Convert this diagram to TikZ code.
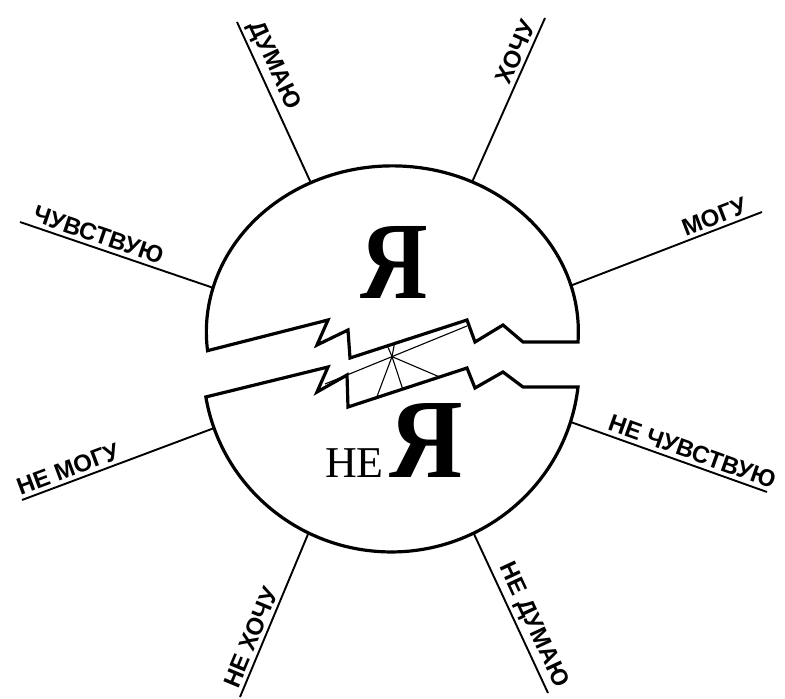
\documentclass[tikz,border=0pt]{standalone}
\usepackage{fontspec}
\usepackage{graphicx}
\setmainfont{Liberation Serif}
\newfontfamily\labfont{Liberation Sans}
\usetikzlibrary{calc}
\tikzset{
  outline/.style={line width=3.2pt, line join=miter},
  spoke/.style={line width=1.9pt},
  fine/.style={line width=1.1pt},
  lbl/.style={font=\labfont\bfseries\fontsize{24}{24}\selectfont, inner sep=3.5pt, sloped},
  bigya/.style={font=\bfseries\fontsize{110}{110}\selectfont, inner sep=0pt},
}
\begin{document}
\begin{tikzpicture}[x=1pt,y=-1pt]
\useasboundingbox (0,0) rectangle (785,699);
% centres of the two halves
\coordinate (UC) at (392.35,331.87);
\coordinate (LC) at (391.2,366);
% upper crack
\coordinate (UR) at (578,342);
\coordinate (U1) at (328,320);
\coordinate (U2) at (317,345);
\coordinate (U3) at (348,330);
\coordinate (U4) at (350,358);
\coordinate (U5) at (467,320);
\coordinate (U6) at (475,342);
\coordinate (U7) at (503,325);
\coordinate (U8) at (523,342);
% lower crack
\coordinate (LR) at (578,387);
\coordinate (L1) at (328,367);
\coordinate (L2) at (317,392);
\coordinate (L3) at (347,375);
\coordinate (L4) at (348,407);
\coordinate (L5) at (467,368);
\coordinate (L6) at (475,388);
\coordinate (L7) at (503,372);
\coordinate (L8) at (523,387);
% halves
\draw[outline] (UR) arc[start angle=3.5, end angle=-186.5, x radius=186, y radius=166]
  -- (U1) -- (U2) -- (U3) -- (U4) -- (U5) -- (U6) -- (U7) -- (U8) -- cycle;
\draw[outline] (LR) arc[start angle=6.5, end angle=170.4, x radius=188, y radius=186]
  -- (L1) -- (L2) -- (L3) -- (L4) -- (L5) -- (L6) -- (L7) -- (L8) -- cycle;
% crack details
\coordinate (T2) at (467,326);
\coordinate (S) at ($(L3)!0.375!(T2)$);
\coordinate (N1) at (325,384);
\draw[fine] (L3) -- (T2);
\draw[fine] (N1) -- (L3);
\draw[fine] (S) -- ($(L4)!0.24!(L5)$);
\draw[fine] (S) -- ($(L4)!0.46!(L5)$);
\draw[fine] (S) -- ($(L4)!0.77!(L5)$);
\draw[fine] (S) -- ($(U4)!0.32!(U5)$);
\draw[fine] (S) -- ($(U4)!0.38!(U5)$);
% spoke end points
\coordinate (iDum) at ($(UC)+(-116:186 and 166)$);
\coordinate (iHoch) at ($(UC)+(-64.6:186 and 166)$);
\coordinate (iMog) at ($(UC)+(-16.2:186 and 166)$);
\coordinate (iChuv) at ($(UC)+(-164.6:186 and 166)$);
\coordinate (iNeMog) at ($(LC)+(160.5:188 and 186)$);
\coordinate (iNeChuv) at ($(LC)+(17.5:188 and 186)$);
\coordinate (iNeHoch) at ($(LC)+(116.1:188 and 186)$);
\coordinate (iNeDum) at ($(LC)+(64:188 and 186)$);
\coordinate (oDum) at (237,22);
\coordinate (oHoch) at (545,18);
\coordinate (oMog) at (762,212);
\coordinate (oChuv) at (20,222);
\coordinate (oNeMog) at (22,500);
\coordinate (oNeChuv) at (767,492);
\coordinate (oNeHoch) at (240,697);
\coordinate (oNeDum) at (548,693);
% spokes with labels
\draw[spoke] (oDum) -- (iDum) node[lbl, pos=0.02, anchor=south west] (tDum) {ДУМАЮ};
\draw[spoke] (iHoch) -- (oHoch) node[lbl, pos=0.97, anchor=south east] (tHoch) {ХОЧУ};
\draw[spoke] (iMog) -- (oMog) node[lbl, pos=0.96, anchor=south east] (tMog) {МОГУ};
\draw[spoke] (oChuv) -- (iChuv) node[lbl, pos=0.03, anchor=south west] (tChuv) {ЧУВСТВУЮ};
\draw[spoke] (oNeMog) -- (iNeMog) node[lbl, pos=-0.02, anchor=south west] (tNeMog) {НЕ МОГУ};
\draw[spoke] (iNeChuv) -- (oNeChuv) node[lbl, pos=1.04, anchor=south east] (tNeChuv) {НЕ ЧУВСТВУЮ};
\draw[spoke] (oNeHoch) -- (iNeHoch) node[lbl, pos=0.01, anchor=south west] (tNeHoch) {НЕ ХОЧУ};
\draw[spoke] (iNeDum) -- (oNeDum) node[lbl, pos=0.21, anchor=south west] (tNeDum) {НЕ ДУМАЮ};
% central letters
\node[bigya, anchor=base] (ya1) at (394.5,298) {\scalebox{0.85}[1]{Я}};
\node[font=\fontsize{44}{44}\selectfont, inner sep=0pt, anchor=base west] (ne) at (325,477) {НЕ};
\node[font=\bfseries\fontsize{113}{113}\selectfont, inner sep=0pt, anchor=base west] (ya2) at (389,477) {\scalebox{0.9}[1]{Я}};
\end{tikzpicture}
\end{document}
